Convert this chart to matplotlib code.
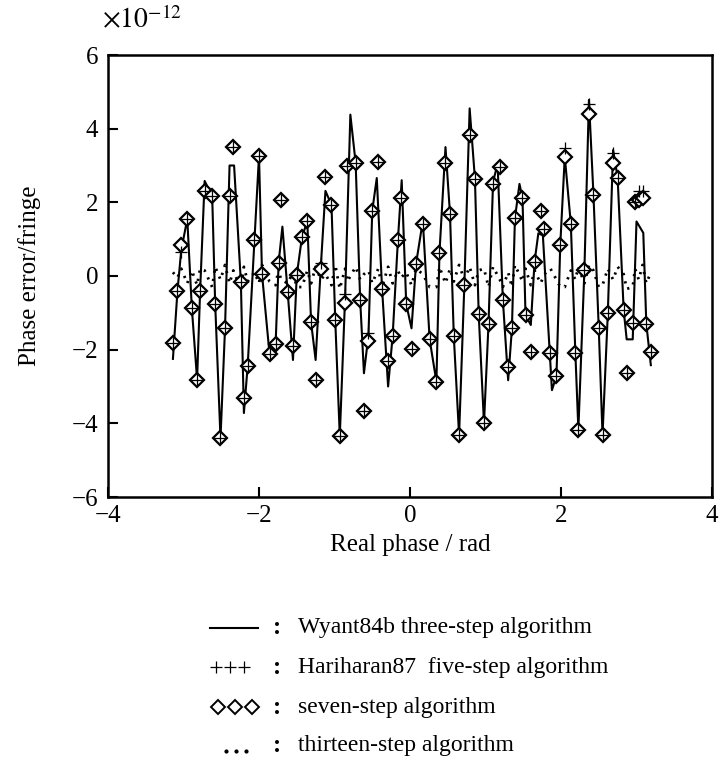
import numpy as np
import matplotlib.pyplot as plt
from matplotlib.lines import Line2D

plt.rcParams['font.family'] = ['Liberation Serif', 'DejaVu Serif']
plt.rcParams['mathtext.fontset'] = 'stix'

# seven-step (diamonds) and five-step (+) share the sample positions
x_pts = [-3.14, -3.08, -3.03, -2.95, -2.89, -2.82, -2.78, -2.72, -2.62, -2.58,
         -2.51, -2.45, -2.39, -2.34, -2.24, -2.20, -2.15, -2.06, -2.00, -1.96,
         -1.86, -1.78, -1.74, -1.71, -1.62, -1.55, -1.50, -1.43, -1.36, -1.31,
         -1.25, -1.18, -1.12, -1.04, -0.99, -0.93, -0.86, -0.83, -0.72, -0.66,
         -0.61, -0.55, -0.50, -0.42, -0.37, -0.29, -0.23, -0.16, -0.12, -0.05,
         0.02, 0.08, 0.17, 0.26, 0.35, 0.39, 0.47, 0.53, 0.58, 0.65,
         0.72, 0.79, 0.86, 0.91, 0.98, 1.04, 1.10, 1.19, 1.23, 1.30,
         1.35, 1.39, 1.49, 1.53, 1.60, 1.65, 1.73, 1.78, 1.86, 1.94,
         1.99, 2.05, 2.13, 2.19, 2.23, 2.31, 2.37, 2.43, 2.50, 2.55,
         2.62, 2.69, 2.75, 2.83, 2.87, 2.95, 2.98, 3.03, 3.08, 3.13,
         3.19]

seven_step = [-1.81, -0.41, 0.84, 1.55, -0.86, -2.81, -0.41, 2.32, 2.16, -0.77,
              -4.41, -1.42, 2.16, 3.50, -0.17, -3.31, -2.44, 0.98, 3.26, 0.05,
              -2.13, -1.85, 0.36, 2.07, -0.44, -1.90, 0.02, 1.07, 1.48, -1.26,
              -2.81, 0.19, 2.68, 1.93, -1.20, -4.35, -0.72, 3.00, 3.07, -0.65,
              -3.67, -1.77, 1.77, 3.09, -0.34, -2.30, -1.63, 0.98, 2.11, -0.76,
              -1.99, 0.33, 1.41, -1.72, -2.87, 0.62, 3.06, 1.68, -1.63, -4.32,
              -0.24, 3.83, 2.64, -1.04, -4.00, -1.30, 2.50, 2.95, -0.65, -2.46,
              -1.42, 1.57, 2.11, -1.06, -2.06, 0.39, 1.77, 1.28, -2.08, -2.71,
              0.83, 3.24, 1.42, -2.08, -4.17, 0.16, 4.39, 2.20, -1.42, -4.32,
              -1.01, 3.06, 2.67, -0.92, -2.63, -1.27, 2.00, 2.06, 2.13, -1.30,
              -2.06]

five_step = [-1.81, -0.41, 0.66, 1.55, -0.86, -2.81, -0.41, 2.32, 2.16, -0.77,
             -4.41, -1.42, 2.16, 3.50, -0.17, -3.31, -2.44, 0.98, 3.26, 0.05,
             -2.13, -1.85, 0.36, 2.07, -0.44, -1.90, 0.02, 1.07, 1.48, -1.26,
             -2.81, 0.36, 2.68, 1.93, -1.20, -4.35, -0.49, 3.00, 3.07, -0.65,
             -3.67, -1.54, 1.77, 3.09, -0.34, -2.30, -1.63, 0.98, 2.11, -0.76,
             -1.99, 0.33, 1.41, -1.72, -2.87, 0.62, 3.06, 1.68, -1.63, -4.32,
             -0.24, 3.83, 2.64, -1.04, -4.00, -1.30, 2.50, 2.95, -0.65, -2.46,
             -1.42, 1.57, 2.11, -1.06, -2.06, 0.39, 1.77, 1.28, -2.08, -2.71,
             0.83, 3.47, 1.42, -2.08, -4.17, 0.16, 4.67, 2.20, -1.42, -4.32,
             -1.01, 3.35, 2.67, -0.92, -2.63, -1.27, 2.00, 2.30, 2.30, -1.30,
             -2.06]

thirteen_step = [0.10, -0.05, 0.20, -0.20, 0.15, -0.25, 0.20, 0.15, -0.30, 0.25,
                 -0.10, 0.30, -0.20, 0.15, -0.35, 0.25, -0.15, 0.10, -0.20, 0.30,
                 -0.15, -0.25, 0.20, -0.10, -0.20, 0.10, -0.30, -0.30, 0.15, -0.20,
                 0.25, -0.10, 0.05, -0.25, 0.30, -0.35, 0.20, -0.15, 0.25, -0.10,
                 0.05, 0.15, -0.20, 0.20, -0.30, 0.25, -0.20, 0.15, -0.05, 0.10,
                 -0.25, 0.20, 0.05, -0.30, -0.30, 0.25, -0.20, 0.20, -0.15, 0.30,
                 -0.10, 0.25, -0.25, 0.15, 0.20, -0.30, 0.25, -0.10, -0.30, 0.10,
                 -0.30, 0.30, -0.15, 0.20, -0.25, 0.15, -0.20, 0.05, 0.20, -0.10,
                 -0.30, -0.30, 0.15, -0.10, 0.25, -0.20, 0.30, 0.15, -0.30, -0.25,
                 0.20, -0.10, 0.25, 0.05, -0.35, -0.30, 0.20, -0.10, 0.30, -0.20,
                 0.10]

# three-step line vertices
x_line = [-3.14, -3.08, -3.03, -2.95, -2.89, -2.82, -2.78, -2.72, -2.62, -2.58,
          -2.51, -2.45, -2.39, -2.33, -2.24, -2.20, -2.15, -2.06, -2.00, -1.96,
          -1.86, -1.78, -1.74, -1.69, -1.62, -1.55, -1.50, -1.43, -1.36, -1.31,
          -1.25, -1.18, -1.12, -1.04, -0.99, -0.93, -0.86, -0.79, -0.72, -0.66,
          -0.61, -0.55, -0.50, -0.44, -0.37, -0.29, -0.23, -0.16, -0.11, -0.05,
          0.02, 0.08, 0.17, 0.26, 0.35, 0.39, 0.47, 0.53, 0.58, 0.65,
          0.72, 0.79, 0.86, 0.91, 0.98, 1.04, 1.10, 1.16, 1.23, 1.30,
          1.35, 1.39, 1.45, 1.49, 1.53, 1.60, 1.65, 1.70, 1.76, 1.88,
          1.94, 1.99, 2.05, 2.13, 2.19, 2.23, 2.31, 2.37, 2.43, 2.50,
          2.55, 2.62, 2.69, 2.75, 2.83, 2.87, 2.95, 3.00, 3.09, 3.13,
          3.19]
three_step = [-2.25, -0.41, 0.70, 1.55, -0.86, -2.81, -0.41, 2.58, 2.16, -0.77,
              -4.41, -1.42, 3.00, 3.00, -0.17, -3.72, -2.44, 0.98, 3.26, 0.05,
              -2.13, -1.85, 0.36, 1.34, -0.44, -2.28, 0.02, 1.07, 1.48, -1.26,
              -2.28, 0.30, 2.31, 1.93, -1.20, -4.35, -0.60, 4.38, 3.07, -0.65,
              -2.64, -1.60, 1.77, 2.66, -0.34, -3.00, -1.63, 0.98, 2.60, -0.76,
              -1.42, 0.33, 1.50, -1.72, -2.87, 0.62, 3.50, 1.68, -1.63, -4.32,
              -0.24, 4.55, 2.64, -1.04, -4.00, -1.30, 2.55, 3.05, -0.65, -2.83,
              -1.42, 1.57, 2.50, 2.11, -1.06, -1.33, 0.39, 1.16, 1.10, -3.10,
              -2.71, 0.83, 3.24, 1.42, -2.08, -4.17, 0.16, 4.78, 2.20, -1.42,
              -4.32, -1.01, 3.42, 2.67, -0.92, -1.72, -1.72, 1.48, 1.17, -1.30,
              -2.42]

legend_labels = ['Wyant84b three-step algorithm',
                 'Hariharan87  five-step algorithm',
                 'seven-step algorithm',
                 'thirteen-step algorithm']

W, H = 719, 776
fig = plt.figure(figsize=(W / 100, H / 100), dpi=100)
ax = fig.add_axes([108 / W, 1 - 497 / H, (712 - 108) / W, (497 - 55) / H])

ax.plot(x_line, three_step, color='black', lw=1.5)
ax.plot(x_pts, thirteen_step, color='black', lw=2.0, linestyle=(0, (0.8, 2.2)))
ax.plot(x_pts, seven_step, linestyle='none', marker='D', ms=7.5,
        mfc='white', mec='black', mew=1.6)
ax.plot(x_pts, five_step, linestyle='none', marker='+', ms=8, mec='black', mew=0.9)

ax.set_xlim(-4, 4)
ax.set_ylim(-6, 6)
ax.set_xticks([-4, -2, 0, 2, 4])
ax.set_yticks([-6, -4, -2, 0, 2, 4, 6])
ax.tick_params(direction='in', length=7, width=1.5, labelsize=18)
ax.tick_params(axis='x', pad=6)
ax.tick_params(axis='y', pad=7)
for s in ax.spines.values():
    s.set_linewidth(1.8)

fig.text(102 / W, 1 - 20 / H, r'$\times10^{-12}$', fontsize=20, va='center', ha='left')
fig.text(30 / W, 1 - 276 / H, 'Phase error/fringe', rotation=90, fontsize=18,
         ha='center', va='center')
fig.text(410 / W, 1 - 545 / H, 'Real phase / rad', fontsize=18, ha='center', va='center')

# legend drawn below the axes
rows = [628, 667, 707, 746]
fig.add_artist(Line2D([210 / W, 258 / W], [1 - rows[0] / H] * 2, color='black', lw=1.5))
fig.add_artist(Line2D([216 / W, 230 / W, 244 / W], [1 - rows[1] / H] * 3, ls='none',
                      marker='+', ms=8, mec='black', mew=0.9))
fig.add_artist(Line2D([218 / W, 235 / W, 252 / W], [1 - rows[2] / H] * 3, ls='none',
                      marker='D', ms=7, mfc='white', mec='black', mew=1.4))
fig.add_artist(Line2D([226 / W, 236 / W, 246 / W], [1 - (rows[3] + 5) / H] * 3, ls='none',
                      marker='o', ms=2, color='black'))
for r, lab in zip(rows, legend_labels):
    fig.text(277 / W, 1 - r / H, ':', fontsize=18, ha='center', va='center',
             fontweight='bold')
    fig.text(298 / W, 1 - r / H, lab, fontsize=17, ha='left', va='center')

fig.savefig('out.png', dpi=100)
